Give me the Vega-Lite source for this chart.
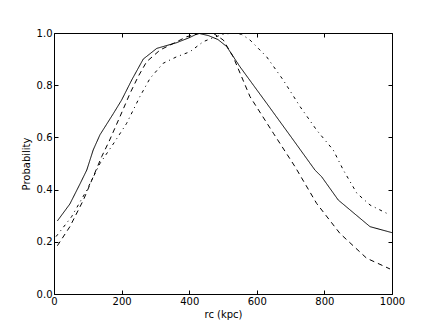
{
  "$schema": "https://vega.github.io/schema/vega-lite/v6.json",
  "width": 338,
  "height": 261,
  "autosize": "none",
  "padding": {"left": 54, "top": 33, "right": 44, "bottom": 33},
  "background": "white",
  "config": {
    "font": "DejaVu Sans",
    "view": {"stroke": "black", "strokeWidth": 1}
  },
  "data": {
    "values": [
      {"r": 10, "p": 0.28, "s": "A"}, {"r": 47, "p": 0.345, "s": "A"}, {"r": 77, "p": 0.422, "s": "A"},
      {"r": 97, "p": 0.475, "s": "A"}, {"r": 116, "p": 0.552, "s": "A"}, {"r": 136, "p": 0.61, "s": "A"},
      {"r": 175, "p": 0.69, "s": "A"}, {"r": 200, "p": 0.743, "s": "A"}, {"r": 230, "p": 0.82, "s": "A"},
      {"r": 264, "p": 0.9, "s": "A"}, {"r": 304, "p": 0.941, "s": "A"}, {"r": 363, "p": 0.963, "s": "A"},
      {"r": 402, "p": 0.983, "s": "A"}, {"r": 427, "p": 0.999, "s": "A"}, {"r": 457, "p": 0.99, "s": "A"},
      {"r": 485, "p": 0.975, "s": "A"}, {"r": 511, "p": 0.948, "s": "A"}, {"r": 550, "p": 0.871, "s": "A"},
      {"r": 590, "p": 0.8, "s": "A"}, {"r": 629, "p": 0.731, "s": "A"}, {"r": 708, "p": 0.59, "s": "A"},
      {"r": 772, "p": 0.475, "s": "A"}, {"r": 792, "p": 0.449, "s": "A"}, {"r": 841, "p": 0.36, "s": "A"},
      {"r": 935, "p": 0.258, "s": "A"}, {"r": 1000, "p": 0.235, "s": "A"},

      {"r": 10, "p": 0.185, "s": "B"}, {"r": 47, "p": 0.258, "s": "B"}, {"r": 87, "p": 0.36, "s": "B"},
      {"r": 116, "p": 0.449, "s": "B"}, {"r": 141, "p": 0.526, "s": "B"}, {"r": 163, "p": 0.585, "s": "B"},
      {"r": 195, "p": 0.679, "s": "B"}, {"r": 225, "p": 0.769, "s": "B"}, {"r": 249, "p": 0.833, "s": "B"},
      {"r": 274, "p": 0.89, "s": "B"}, {"r": 314, "p": 0.935, "s": "B"}, {"r": 353, "p": 0.96, "s": "B"},
      {"r": 393, "p": 0.986, "s": "B"}, {"r": 430, "p": 0.998, "s": "B"}, {"r": 470, "p": 1.0, "s": "B"},
      {"r": 501, "p": 0.973, "s": "B"}, {"r": 530, "p": 0.909, "s": "B"}, {"r": 580, "p": 0.756, "s": "B"},
      {"r": 649, "p": 0.616, "s": "B"}, {"r": 713, "p": 0.488, "s": "B"}, {"r": 777, "p": 0.347, "s": "B"},
      {"r": 846, "p": 0.232, "s": "B"}, {"r": 925, "p": 0.137, "s": "B"}, {"r": 994, "p": 0.096, "s": "B"},

      {"r": 6, "p": 0.22, "s": "C"}, {"r": 52, "p": 0.296, "s": "C"}, {"r": 97, "p": 0.398, "s": "C"},
      {"r": 136, "p": 0.5, "s": "C"}, {"r": 178, "p": 0.58, "s": "C"}, {"r": 215, "p": 0.654, "s": "C"},
      {"r": 254, "p": 0.756, "s": "C"}, {"r": 284, "p": 0.826, "s": "C"}, {"r": 323, "p": 0.884, "s": "C"},
      {"r": 363, "p": 0.909, "s": "C"}, {"r": 402, "p": 0.928, "s": "C"}, {"r": 442, "p": 0.967, "s": "C"},
      {"r": 471, "p": 0.982, "s": "C"}, {"r": 500, "p": 0.995, "s": "C"}, {"r": 530, "p": 1.0, "s": "C"},
      {"r": 555, "p": 0.995, "s": "C"}, {"r": 580, "p": 0.973, "s": "C"}, {"r": 629, "p": 0.909, "s": "C"},
      {"r": 678, "p": 0.82, "s": "C"}, {"r": 728, "p": 0.718, "s": "C"}, {"r": 777, "p": 0.628, "s": "C"},
      {"r": 826, "p": 0.552, "s": "C"}, {"r": 856, "p": 0.475, "s": "C"}, {"r": 896, "p": 0.386, "s": "C"},
      {"r": 935, "p": 0.341, "s": "C"}, {"r": 994, "p": 0.303, "s": "C"}
    ]
  },
  "layer": [
    {
      "mark": {"type": "line", "color": "black", "strokeWidth": 1, "clip": true},
      "encoding": {
        "x": {
          "field": "r", "type": "quantitative",
          "scale": {"domain": [0, 1000], "nice": false, "zero": false},
          "axis": {
            "title": "rc (kpc)", "titleFont": "DejaVu Sans", "titleFontSize": 10, "titleFontWeight": "normal",
            "titleColor": "black", "titlePadding": 3,
            "values": [0, 200, 400, 600, 800, 1000], "format": "d",
            "labelFont": "DejaVu Sans", "labelFontSize": 10, "labelColor": "black", "labelPadding": 6, "labelFlush": false,
            "tickSize": -4, "tickColor": "black", "domain": false, "grid": false
          }
        },
        "y": {
          "field": "p", "type": "quantitative",
          "scale": {"domain": [0, 1], "nice": false},
          "axis": {
            "title": "Probability", "titleFont": "DejaVu Sans", "titleFontSize": 10, "titleFontWeight": "normal",
            "titleColor": "black", "titlePadding": 5,
            "values": [0, 0.2, 0.4, 0.6, 0.8, 1.0], "format": ".1f",
            "labelFont": "DejaVu Sans", "labelFontSize": 10, "labelColor": "black", "labelPadding": 6, "labelFlush": false,
            "tickSize": -4, "tickColor": "black", "domain": false, "grid": false
          }
        },
        "strokeDash": {
          "field": "s", "type": "nominal",
          "scale": {"domain": ["A", "B", "C"], "range": [[1, 0], [5, 4], [3, 4, 1, 4]]},
          "legend": null
        },
        "detail": {"field": "s"}
      }
    },
    {
      "mark": {"type": "point", "opacity": 0},
      "encoding": {
        "x": {
          "field": "r", "type": "quantitative",
          "axis": {"orient": "top", "values": [0, 200, 400, 600, 800, 1000], "labels": false, "title": null,
                   "tickSize": -4, "tickColor": "black", "domain": false, "grid": false}
        },
        "y": {
          "field": "p", "type": "quantitative",
          "axis": {"orient": "right", "values": [0, 0.2, 0.4, 0.6, 0.8, 1.0], "labels": false, "title": null,
                   "tickSize": -4, "tickColor": "black", "domain": false, "grid": false}
        }
      }
    }
  ],
  "resolve": {"axis": {"x": "independent", "y": "independent"}}
}
